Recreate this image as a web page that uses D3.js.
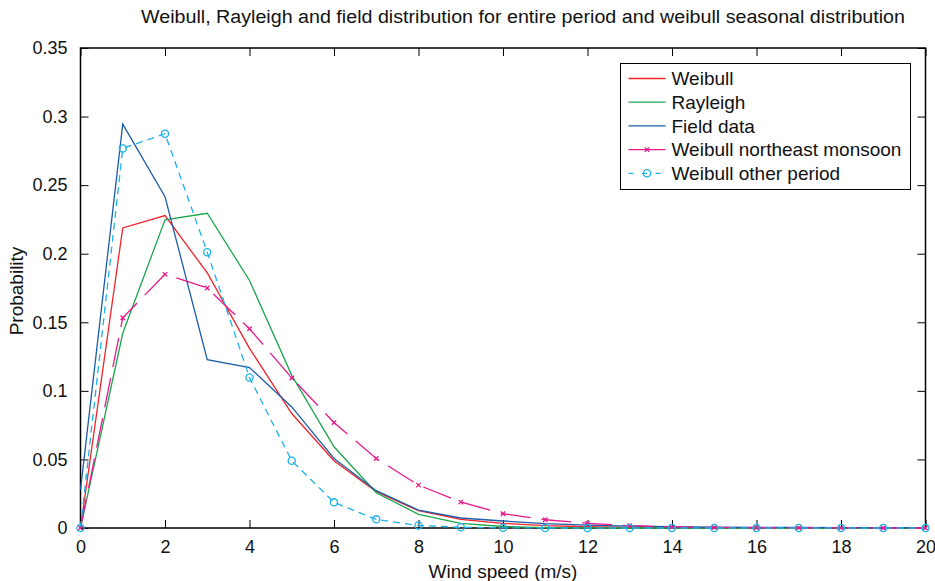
<!DOCTYPE html>
<html>
<head>
<meta charset="utf-8">
<script src="https://cdn.jsdelivr.net/npm/d3@7"></script>
<style>
  body { margin: 0; background: #fff; }
  svg { display: block; font-family: "Liberation Sans", Arial, Helvetica, sans-serif; }
</style>
</head>
<body>
<svg id="chart" width="935" height="581"></svg>
<script>
// Wind speed bins (m/s)
const speeds = d3.range(0, 21);

// Probability per wind speed bin
const weibull  = [0, 0.2188, 0.2278, 0.186, 0.131, 0.0835, 0.049, 0.0264, 0.0126, 0.0063, 0.0034, 0.0018, 0.0009, 0.0005, 0.0003, 0.0002, 0.0001, 0.0001, 0.0001, 0.0001, 0.0001];
const rayleigh = [0, 0.142, 0.2247, 0.2295, 0.1805, 0.1113, 0.0592, 0.0257, 0.0100, 0.0034, 0.0011, 0.0003, 0.0001, 0, 0, 0, 0, 0, 0, 0, 0];
const field    = [0.028, 0.2945, 0.2416, 0.1228, 0.117, 0.0883, 0.0507, 0.0272, 0.0131, 0.0073, 0.0051, 0.0032, 0.0021, 0.0014, 0.0009, 0.0006, 0.0005, 0.0004, 0.0003, 0.0003, 0.0002];
const monsoon  = [0, 0.1533, 0.185, 0.175, 0.1453, 0.1094, 0.0769, 0.0507, 0.0313, 0.0189, 0.0104, 0.006, 0.0034, 0.0017, 0.0008, 0.0004, 0.0002, 0.0001, 0.0001, 0, 0];
const other    = [0, 0.2768, 0.2875, 0.2011, 0.1097, 0.049, 0.0187, 0.0063, 0.0018, 0.0005, 0.0001, 0, 0, 0, 0, 0, 0, 0, 0, 0, 0];

const seriesNames = ["Weibull", "Rayleigh", "Field data", "Weibull northeast monsoon", "Weibull other period"];
const xTicks = d3.range(0, 21, 2);
const yTicks = [0, 0.05, 0.1, 0.15, 0.2, 0.25, 0.3, 0.35];

const titleText = "Weibull, Rayleigh and field distribution for entire period and weibull seasonal distribution";
const xLabel = "Wind speed (m/s)";
const yLabel = "Probability";

const svg = d3.select("#chart");
const m = { left: 80.5, right: 925.5, top: 48, bottom: 528 };

const x = d3.scaleLinear().domain([0, 20]).range([m.left, m.right]);
const y = d3.scaleLinear().domain([0, 0.35]).range([m.bottom, m.top]);

const styles = [
  { color: "#f2232a", dash: null, marker: null },
  { color: "#1ba64e", dash: null, marker: null },
  { color: "#1d5ca8", dash: null, marker: null },
  { color: "#e8198b", dash: "30,11", marker: "x" },
  { color: "#1cb2ea", dash: "7,5", marker: "o" }
];
const values = [weibull, rayleigh, field, monsoon, other];

// Axes (ticks pointing inward, box on all four sides)
const tickLen = 8;
const axisFont = 18;

const xAxis = d3.axisBottom(x).tickValues(xTicks).tickSize(-tickLen).tickPadding(tickLen + 4).tickFormat(d3.format("d"));
const yAxis = d3.axisLeft(y).tickValues(yTicks).tickSize(-tickLen).tickPadding(tickLen + 5).tickFormat(d => d === 0 ? "0" : d3.format("")(+d.toFixed(2)));
const xTop = d3.axisTop(x).tickValues(xTicks).tickSize(-tickLen).tickFormat("");
const yRight = d3.axisRight(y).tickValues(yTicks).tickSize(-tickLen).tickFormat("");

function styleAxis(g) {
  g.select(".domain").remove();
  g.selectAll(".tick line").attr("stroke", "#000").attr("stroke-width", 1);
  g.selectAll(".tick text").attr("fill", "#111").style("font-size", axisFont + "px");
}

svg.append("g").attr("transform", `translate(0,${m.bottom})`).call(xAxis).call(styleAxis)
  .selectAll(".tick text").attr("dy", "0.71em");
svg.append("g").attr("transform", `translate(${m.left},0)`).call(yAxis).call(styleAxis);
svg.append("g").attr("transform", `translate(0,${m.top})`).call(xTop).call(styleAxis);
svg.append("g").attr("transform", `translate(${m.right},0)`).call(yRight).call(styleAxis);

// Plot frame
svg.append("rect")
  .attr("x", m.left).attr("y", m.top)
  .attr("width", m.right - m.left).attr("height", m.bottom - m.top)
  .attr("fill", "none").attr("stroke", "#000").attr("stroke-width", 1.5);

// Series lines
const line = d3.line().x((d, i) => x(speeds[i])).y(d => y(d));
const plot = svg.append("g");

values.forEach((vals, k) => {
  const s = styles[k];
  plot.append("path")
    .datum(vals)
    .attr("d", line)
    .attr("fill", "none")
    .attr("stroke", s.color)
    .attr("stroke-width", 1.3)
    .attr("stroke-dasharray", s.dash);
});

// Markers
function drawMarker(g, type, cx, cy, color) {
  if (type === "x") {
    const r = 2.2;
    g.append("path")
      .attr("d", `M${cx - r},${cy - r}L${cx + r},${cy + r}M${cx - r},${cy + r}L${cx + r},${cy - r}`)
      .attr("stroke", color).attr("stroke-width", 1.3).attr("fill", "none");
  } else if (type === "o") {
    g.append("circle").attr("cx", cx).attr("cy", cy).attr("r", 3.6)
      .attr("fill", "none").attr("stroke", color).attr("stroke-width", 1.3);
  }
}

values.forEach((vals, k) => {
  const s = styles[k];
  if (!s.marker) return;
  vals.forEach((v, i) => drawMarker(plot, s.marker, x(speeds[i]), y(v), s.color));
});

// Legend
const lg = { x: 620.5, y: 63.5, w: 290, h: 126 };
const legend = svg.append("g");
legend.append("rect")
  .attr("x", lg.x).attr("y", lg.y).attr("width", lg.w).attr("height", lg.h)
  .attr("fill", "#fff").attr("stroke", "#000").attr("stroke-width", 1);

seriesNames.forEach((name, k) => {
  const s = styles[k];
  const cy = lg.y + 15 + k * 23.7;
  const x0 = lg.x + 8, x1 = lg.x + 45;
  legend.append("line")
    .attr("x1", x0).attr("x2", x1).attr("y1", cy).attr("y2", cy)
    .attr("stroke", s.color).attr("stroke-width", 1.3)
    .attr("stroke-dasharray", s.marker === "o" ? "5,8.5" : null);
  if (s.marker) drawMarker(legend, s.marker, (x0 + x1) / 2, cy, s.color);
  legend.append("text")
    .attr("x", lg.x + 51).attr("y", cy).attr("dy", "0.36em")
    .attr("fill", "#111").style("font-size", "19px")
    .text(name);
});

// Title and axis labels
svg.append("text")
  .attr("x", 523).attr("y", 23)
  .attr("text-anchor", "middle").attr("fill", "#111").style("font-size", "18px")
  .attr("textLength", 764).attr("lengthAdjust", "spacingAndGlyphs")
  .text(titleText);

svg.append("text")
  .attr("x", (m.left + m.right) / 2).attr("y", 578)
  .attr("text-anchor", "middle").attr("fill", "#111").style("font-size", "19px")
  .text(xLabel);

svg.append("text")
  .attr("transform", `translate(23,${291}) rotate(-90)`)
  .attr("text-anchor", "middle").attr("fill", "#111").style("font-size", "19px")
  .text(yLabel);
</script>
</body>
</html>
